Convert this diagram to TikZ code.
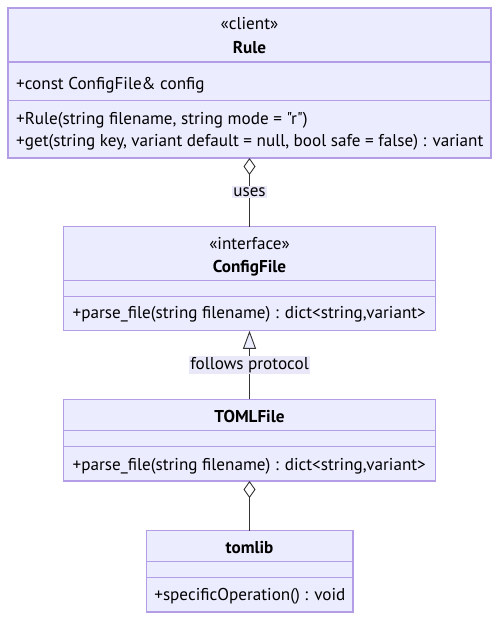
\documentclass[tikz,border=0pt]{standalone}
\usepackage{fontspec}
\setmainfont{PT Sans}[Ligatures=TeXOff]
\usetikzlibrary{positioning, arrows.meta}
\definecolor{classfill}{HTML}{ECECFF}
\definecolor{classline}{HTML}{B39DE6}
\definecolor{edgeline}{HTML}{333333}
\definecolor{labelbg}{HTML}{E8E8F8}

\begin{document}
\begin{tikzpicture}[x=1bp, y=1bp,
  class/.style={rectangle, draw=classline, fill=classfill, line width=1.3bp, inner sep=0pt, outer sep=0pt, minimum width=372bp},
  sep/.style={draw=classline, line width=1.3bp},
  title/.style={anchor=base, inner sep=0pt, font=\bfseries\fontsize{17.2}{20}\selectfont},
  stereo/.style={anchor=base, inner sep=0pt, font=\fontsize{17.2}{20}\selectfont},
  member/.style={anchor=base west, inner sep=0pt, font=\fontsize{17.2}{20}\selectfont},
  link/.style={draw=edgeline, line width=0.9bp},
  edgelabel/.style={fill=labelbg, inner sep=1.5bp, text=black, font=\fontsize{17.2}{20}\selectfont},
  node distance=68.5bp]

\useasboundingbox (0,0) rectangle (499,-620);

% Client
\node[class, minimum width=483bp, minimum height=150bp, anchor=north west] (rule) at (8,-8) {};
\draw[sep] ([yshift=-54bp]rule.north west) -- ([yshift=-54bp]rule.north east);
\draw[sep] ([yshift=-92.7bp]rule.north west) -- ([yshift=-92.7bp]rule.north east);
\node[stereo] (rulestereo) at ([yshift=-22bp]rule.north) {«client»};
\node[title] (ruletitle) at ([yshift=-45.3bp]rule.north) {Rule};
\node[member] (ruleattr) at ([xshift=8bp, yshift=-81.3bp]rule.north west) {+const ConfigFile\& config};
\node[member] (rulector) at ([xshift=8bp, yshift=-116bp]rule.north west) {+Rule(string filename, string mode = "r")};
\node[member] (ruleget) at ([xshift=8bp, yshift=-138bp]rule.north west) {+get(string key, variant default = null, bool safe = false) : variant};

% Interface
\node[class, minimum height=104.3bp, below=of rule] (config) {};
\draw[sep] ([yshift=-54.3bp]config.north west) -- ([yshift=-54.3bp]config.north east);
\draw[sep] ([yshift=-70bp]config.north west) -- ([yshift=-70bp]config.north east);
\node[stereo] (configstereo) at ([yshift=-23.3bp]config.north) {«interface»};
\node[title] (configtitle) at ([yshift=-46bp]config.north) {ConfigFile};
\node[member] (configparse) at ([xshift=9bp, yshift=-91.6bp]config.north west) {+parse\_file(string filename) : dict<string,variant>};

% Concrete file
\node[class, minimum height=81.7bp, below=of config] (toml) {};
\draw[sep] ([yshift=-31.4bp]toml.north west) -- ([yshift=-31.4bp]toml.north east);
\draw[sep] ([yshift=-47.4bp]toml.north west) -- ([yshift=-47.4bp]toml.north east);
\node[title] (tomltitle) at ([yshift=-23.4bp]toml.north) {TOMLFile};
\node[member] (tomlparse) at ([xshift=9bp, yshift=-70.7bp]toml.north west) {+parse\_file(string filename) : dict<string,variant>};

% Library
\node[class, minimum width=206.7bp, minimum height=81.3bp, below=49.7bp of toml] (tomlib) {};
\draw[sep] ([yshift=-31bp]tomlib.north west) -- ([yshift=-31bp]tomlib.north east);
\draw[sep] ([yshift=-47bp]tomlib.north west) -- ([yshift=-47bp]tomlib.north east);
\node[title] (tomlibtitle) at ([yshift=-22.6bp]tomlib.north) {tomlib};
\node[member] (tomlibop) at ([xshift=8bp, yshift=-70bp]tomlib.north west) {+specificOperation() : void};

% Aggregation and realization
\draw[link, {Diamond[open, length=17bp, width=12bp]}-] (rule.south) -- node[edgelabel] (useslabel) {uses} (config.north);
\draw[link, -{Triangle[fill=classfill, length=18bp, width=13bp]}] (toml.north) -- node[edgelabel] (followslabel) {follows protocol} (config.south);
\draw[link, {Diamond[open, length=17bp, width=12bp]}-] (toml.south) -- (tomlib.north);

\end{tikzpicture}
\end{document}
